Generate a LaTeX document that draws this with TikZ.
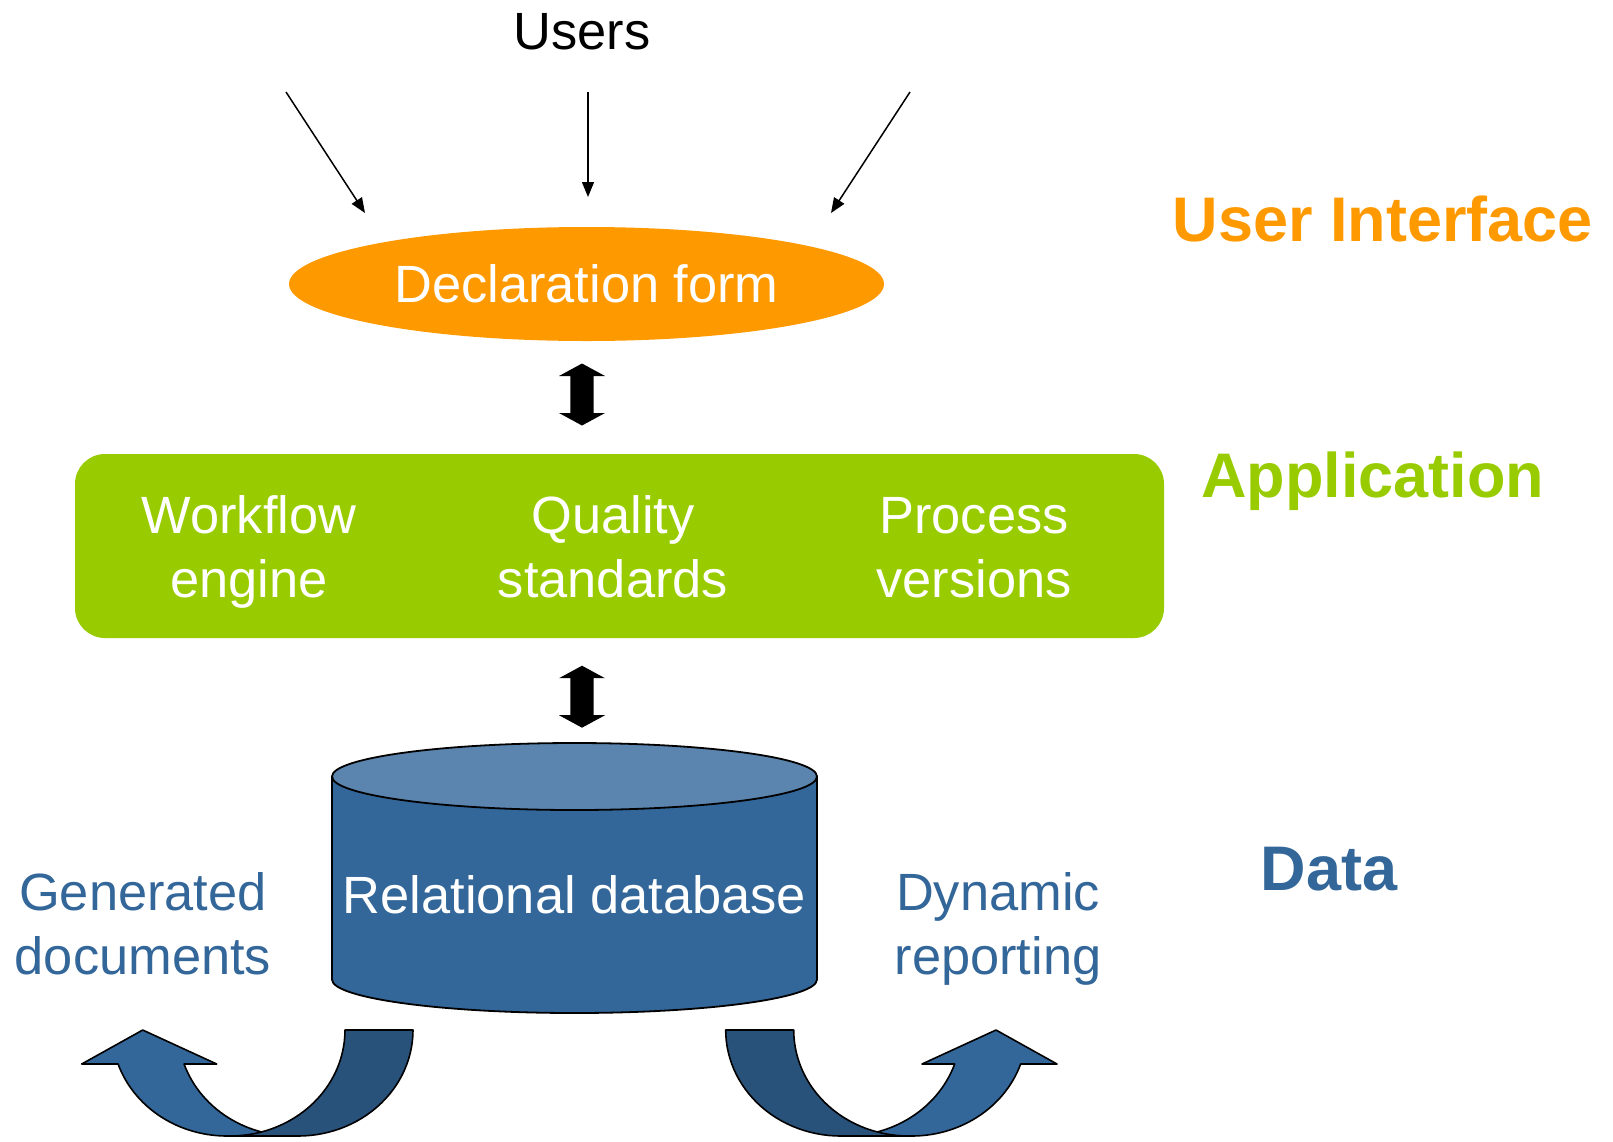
\documentclass[tikz,border=0pt]{standalone}
\usepackage{fontspec}
\setmainfont{Liberation Sans}
\usetikzlibrary{shapes.geometric,arrows.meta}
\definecolor{uiorange}{HTML}{FF9900}
\definecolor{appgreen}{HTML}{99CC00}
\definecolor{datablue}{HTML}{336699}
\definecolor{dbtop}{HTML}{5B85AE}
\definecolor{backblue}{HTML}{29527B}
\tikzset{
  reg/.style={font=\fontsize{52.4}{64}\selectfont, inner sep=0pt, align=center},
  layer/.style={font=\fontsize{63}{70}\selectfont\bfseries, inner sep=0pt, anchor=base},
  thinarrow/.style={line width=1.5pt, -{Triangle[length=15pt,width=12pt]}},
  ribbonlight/.style={fill=datablue, draw=black, line width=1.6pt, line join=round},
  ribbondark/.style={fill=backblue, draw=black, line width=1.6pt, line join=round},
  dblarrow/.pic={\fill[black] (0,-31) -- (23,-18.5) -- (11.7,-18.5) -- (11.7,18.5) -- (23,18.5) -- (0,31) -- (-23,18.5) -- (-11.7,18.5) -- (-11.7,-18.5) -- (-23,-18.5) -- cycle;}
}
\begin{document}
\begin{tikzpicture}[x=1pt,y=-1pt]
\useasboundingbox (0,0) rectangle (1613,1141);
\fill[white] (0,0) rectangle (1613,1141);

% Users and arrows
\node[reg, anchor=base] (users) at (582,49) {Users};
\coordinate (u1) at (286,92);
\coordinate (u2) at (588,92);
\coordinate (u3) at (910,92);
\coordinate (f1) at (365,213);
\coordinate (f2) at (588,197);
\coordinate (f3) at (831,213);
\draw[thinarrow] (u1) -- (f1);
\draw[thinarrow] (u2) -- (f2);
\draw[thinarrow] (u3) -- (f3);

% Declaration form
\node[ellipse, fill=uiorange, minimum width=595pt, minimum height=114pt, inner sep=0pt, text=white, reg] (form) at (586.5,284) {Declaration form};

% double arrows
\coordinate (d1) at (582,394.5);
\coordinate (d2) at (582,696.7);
\pic at (d1) {dblarrow};
\pic at (d2) {dblarrow};

% Application box
\node[fill=appgreen, rounded corners=30pt, minimum width=1089pt, minimum height=184pt, inner sep=0pt] (app) at (619.5,546) {};
\node[reg, text=white, anchor=base] (wf) at (249,597) {Workflow\\engine};
\node[reg, text=white, anchor=base] (qs) at (613,597) {Quality\\standards};
\node[reg, text=white, anchor=base] (pv) at (974,597) {Process\\versions};

% layer labels
\node[layer, text=uiorange] (ui) at (1383,241) {User Interface};
\node[layer, text=appgreen] (appl) at (1372.5,497) {Application};
\node[layer, text=datablue] (data) at (1329,890) {Data};

% database cylinder
\filldraw[fill=datablue, draw=black, line width=1.8pt] (332,776.5) -- (332,979.5) arc[start angle=180, end angle=360, x radius=242.5pt, y radius=33.5pt] -- (817,776.5) -- cycle;
\filldraw[fill=dbtop, draw=black, line width=1.8pt] (574.5,776.5) ellipse [x radius=242.5pt, y radius=33.5pt];
\node[reg, text=white, anchor=base] (db) at (574.5,913) {Relational database};

% side texts
\node[reg, text=datablue, anchor=base] (gen) at (143,974) {Generated\\documents};
\node[reg, text=datablue, anchor=base] (dyn) at (998,974) {Dynamic\\reporting};

% curved arrows
\begin{scope}
\filldraw[ribbonlight] (142.7,1030) -- (216.7,1064) -- (184,1064) -- plot[domain=18.7:90, samples=30] ({293-115*cos(\x)},{1030+106*sin(\x)}) -- (227,1136) -- plot[domain=90:18.7, samples=30] ({227-115*cos(\x)},{1030+106*sin(\x)}) -- (81.7,1064) -- cycle;
\filldraw[ribbondark] (345,1030) -- (413,1030) -- plot[domain=0:90, samples=30] ({298+115*cos(\x)},{1030+106*sin(\x)}) -- (230,1136) -- plot[domain=90:0, samples=30] ({230+115*cos(\x)},{1030+106*sin(\x)}) -- cycle;
\end{scope}
\begin{scope}[xshift=1138.7pt, xscale=-1]
\filldraw[ribbonlight] (142.7,1030) -- (216.7,1064) -- (184,1064) -- plot[domain=18.7:90, samples=30] ({293-115*cos(\x)},{1030+106*sin(\x)}) -- (227,1136) -- plot[domain=90:18.7, samples=30] ({227-115*cos(\x)},{1030+106*sin(\x)}) -- (81.7,1064) -- cycle;
\filldraw[ribbondark] (345,1030) -- (413,1030) -- plot[domain=0:90, samples=30] ({298+115*cos(\x)},{1030+106*sin(\x)}) -- (230,1136) -- plot[domain=90:0, samples=30] ({230+115*cos(\x)},{1030+106*sin(\x)}) -- cycle;
\end{scope}
\end{tikzpicture}
\end{document}
